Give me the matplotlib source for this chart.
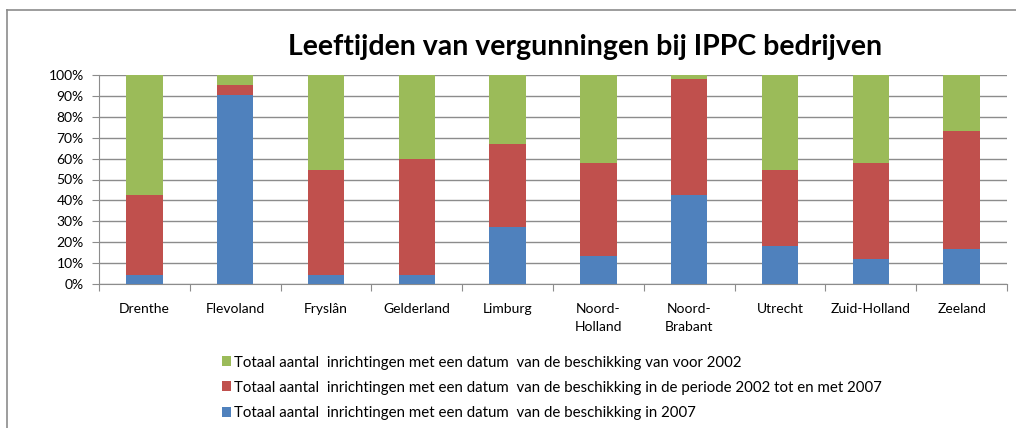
import numpy as np
import matplotlib.pyplot as plt
from matplotlib.lines import Line2D

plt.rcParams['font.family'] = ['Lato', 'DejaVu Sans']

provinces = ['Drenthe', 'Flevoland', 'Fryslân', 'Gelderland', 'Limburg',
             'Noord-\nHolland', 'Noord-\nBrabant', 'Utrecht', 'Zuid-Holland', 'Zeeland']
# percentages per category (stacked, sum 100)
in_2007 = [4.5, 90.4, 4.5, 4.5, 27.2, 13.4, 42.6, 18.2, 11.8, 16.6]
p2002_2007 = [38.1, 4.8, 49.9, 55.5, 39.8, 44.7, 55.5, 36.4, 46.3, 56.5]
voor_2002 = [57.4, 4.8, 45.6, 40.0, 33.0, 41.9, 1.9, 45.4, 41.9, 26.9]

labels = ['Totaal aantal  inrichtingen met een datum  van de beschikking van voor 2002',
          'Totaal aantal  inrichtingen met een datum  van de beschikking in de periode 2002 tot en met 2007',
          'Totaal aantal  inrichtingen met een datum  van de beschikking in 2007']
c_blue = '#4f81bd'
c_red = '#c0504d'
c_green = '#9bbb59'

fig = plt.figure(figsize=(10.16, 4.28), dpi=100)
ax = fig.add_axes([99/1016, 1-284/428, 908/1016, 209/428])

x = np.arange(len(provinces))
b1 = ax.bar(x, in_2007, width=0.4, color=c_blue, zorder=3)
b2 = ax.bar(x, p2002_2007, width=0.4, bottom=in_2007, color=c_red, zorder=3)
bottom3 = np.array(in_2007) + np.array(p2002_2007)
b3 = ax.bar(x, voor_2002, width=0.4, bottom=bottom3, color=c_green, zorder=3)

ax.set_xlim(-0.5, len(provinces) - 0.5)
ax.set_ylim(0, 100)
ax.set_yticks(np.arange(0, 101, 10))
ax.set_yticklabels([f'{v}%' for v in range(0, 101, 10)], fontsize=10)
ax.yaxis.grid(True, color='#8c8c8c', lw=1, zorder=0)
ax.set_xticks(np.arange(-0.5, len(provinces), 1))
ax.set_xticklabels([])
ax.set_xticks(x, minor=True)
ax.set_xticklabels(provinces, minor=True, fontsize=10, va='top', linespacing=1.6)
ax.tick_params(axis='x', which='minor', length=0, pad=14)
ax.tick_params(axis='x', which='major', length=5, color='#8c8c8c')
ax.tick_params(axis='y', length=5, color='#8c8c8c', pad=6)
for s in ['top', 'right']:
    ax.spines[s].set_visible(False)
ax.spines['left'].set_color('#8c8c8c')
ax.spines['bottom'].set_color('#8c8c8c')

fig.text(585/1016, 1-47/428, 'Leeftijden van vergunningen bij IPPC bedrijven',
         ha='center', va='center', fontsize=20.5, fontweight='bold')

leg = fig.legend([b3, b2, b1], labels, loc='upper left',
                 bbox_to_anchor=(208/1016, 1-342/428), frameon=False,
                 fontsize=10.8, handlelength=0.65, handleheight=0.65,
                 handletextpad=0.2, labelspacing=0.75)

# outer chart frame
fig.add_artist(Line2D([7/1016, 7/1016], [0, 1-10/428], color='#8c8c8c', lw=1.2))
fig.add_artist(Line2D([7/1016, 1], [1-10/428, 1-10/428], color='#8c8c8c', lw=1.2))

plt.savefig('out.png', dpi=100)
